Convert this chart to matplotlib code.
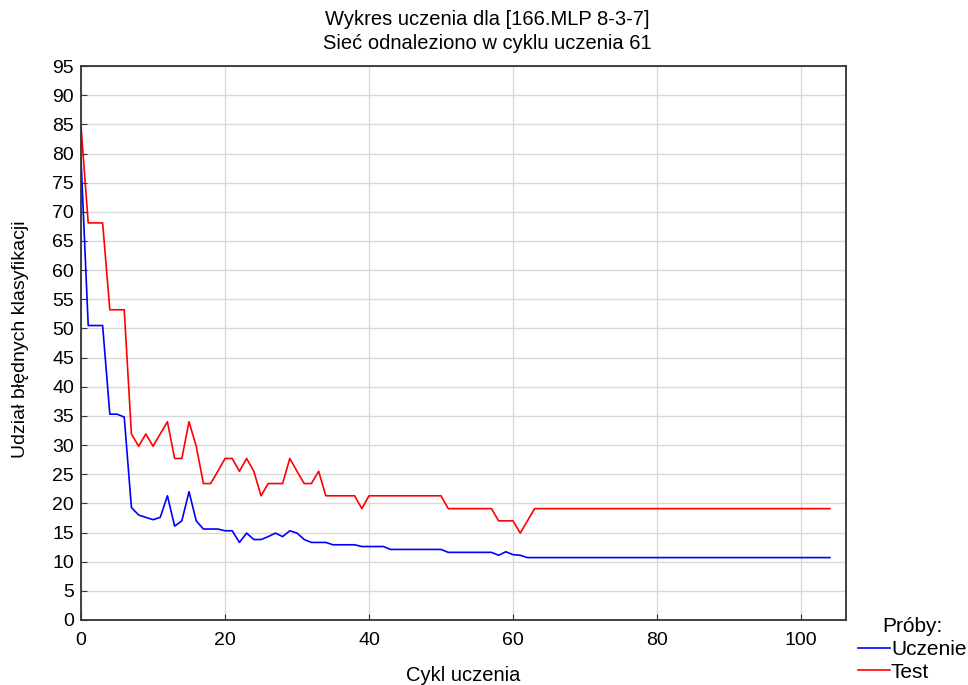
import numpy as np
import matplotlib
matplotlib.use("Agg")
import matplotlib.pyplot as plt

plt.rcParams['font.family'] = ['Liberation Sans', 'DejaVu Sans']

# cykle 0..104
uczenie = ([79.0, 50.5, 50.5, 50.5, 35.3, 35.3, 34.8,
            19.3, 18.0, 17.6, 17.2, 17.6, 21.3, 16.1, 17.0, 22.0, 17.0,
            15.6, 15.6, 15.6, 15.3, 15.3, 13.3, 14.9, 13.8, 13.8, 14.3,
            14.9, 14.3, 15.3, 14.9, 13.8, 13.3, 13.3, 13.3]
           + [12.9] * 4 + [12.6] * 4 + [12.1] * 8 + [11.6] * 7
           + [11.1, 11.7, 11.2, 11.1] + [10.7] * 43)
test = ([84.6, 68.1, 68.1, 68.1, 53.2, 53.2, 53.2,
         31.9, 29.8, 31.9, 29.8, 31.9, 34.0, 27.7, 27.7, 34.0, 29.8,
         23.4, 23.4, 25.5, 27.7, 27.7, 25.5, 27.7, 25.5, 21.3, 23.4,
         23.4, 23.4, 27.7, 25.5, 23.4, 23.4, 25.5]
        + [21.3] * 5 + [19.1] + [21.3] * 11 + [19.1] * 7
        + [17.0, 17.0, 17.0, 14.9, 17.0] + [19.1] * 42)
cykle = np.arange(len(uczenie))

fig = plt.figure(figsize=(9.68, 6.85), dpi=100)
ax = fig.add_axes([0.0837, 0.0949, 0.7903, 0.8087])

ax.plot(cykle, uczenie, color='#0000ff', lw=1.2, label='Uczenie')
ax.plot(np.arange(len(test)), test, color='#ff0000', lw=1.2, label='Test')

ax.set_xlim(0, 106.25)
ax.set_ylim(0, 95)
ax.set_xticks(range(0, 101, 20))
ax.set_yticks(range(0, 96, 5))
ax.grid(True, color='#d9d9d9', lw=1)
ax.set_axisbelow(True)
ax.tick_params(direction='in', labelsize=14, length=4, color='#333333',
               top=False, right=False)
ax.tick_params(axis='y', pad=5)
ax.tick_params(axis='x', pad=9)
for s in ax.spines.values():
    s.set_color('#333333')
    s.set_linewidth(1.3)

fig.text(0.021, 0.505, 'Udział błędnych klasyfikacji', rotation=90,
         ha='center', va='center', fontsize=14)
fig.text(0.479, 0.014, 'Cykl uczenia', ha='center', va='center', fontsize=14.5)
fig.text(0.503, 0.972, 'Wykres uczenia dla [166.MLP 8-3-7]', ha='center',
         va='center', fontsize=14.5)
fig.text(0.503, 0.936, 'Sieć odnaleziono w cyklu uczenia 61', ha='center',
         va='center', fontsize=14.5)

leg = fig.legend(loc='upper left', bbox_to_anchor=(0.886, 0.099), frameon=False,
                 title='Próby:', fontsize=15, title_fontsize=15,
                 handlelength=1.55, handletextpad=0.05, borderpad=0,
                 labelspacing=0.18, borderaxespad=0)

fig.savefig('out.png', dpi=100)
